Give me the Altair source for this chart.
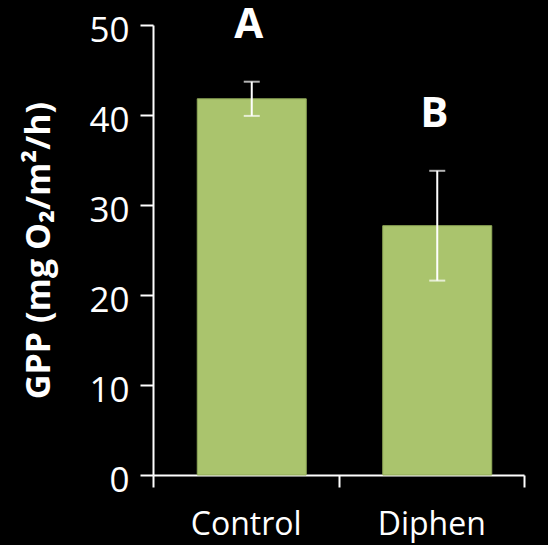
import altair as alt
import pandas as pd

# Gross primary production by treatment (mean ± error)
treatments = ["Control", "Diphen"]
gpp_mean = [41.8, 27.7]
gpp_err = [1.9, 6.1]
group_letters = ["A", "B"]
y_ticks = [0, 10, 20, 30, 40, 50]

df = pd.DataFrame({
    "treatment": treatments,
    "gpp": gpp_mean,
    "err": gpp_err,
    "letter": group_letters,
})
df["lo"] = df["gpp"] - df["err"]
df["hi"] = df["gpp"] + df["err"]

FONT = "Open Sans"
WHITE = "#FFFFFF"
GREEN = "#AAC46D"

x_enc = alt.X(
    "treatment:N",
    sort=treatments,
    scale=alt.Scale(paddingInner=0, paddingOuter=0),
    axis=alt.Axis(
        title=None,
        labelAngle=0,
        tickBand="extent",
        labelFont=FONT,
        labelFontSize=32,
        labelColor=WHITE,
        labelPadding=22,
        domainColor=WHITE,
        domainWidth=2,
        tickColor=WHITE,
        tickWidth=2,
        tickSize=12,
    ),
)

y_scale = alt.Scale(domain=[0, 50], nice=False)
y_axis = alt.Axis(
    title="GPP (mg O₂/m²/h)",
    values=y_ticks,
    grid=False,
    labelFont=FONT,
    labelFontSize=35,
    labelColor=WHITE,
    labelPadding=11,
    labelOffset=5,
    domainColor=WHITE,
    domainWidth=2,
    tickColor=WHITE,
    tickWidth=2,
    tickSize=13,
    titleFont=FONT,
    titleFontSize=34,
    titleFontWeight="bold",
    titleColor=WHITE,
    titleX=-104,
    titleY=225,
    titleAngle=-90,
    titleAlign="center",
    titleBaseline="alphabetic",
)

base = alt.Chart(df)

bars = base.mark_bar(
    width=109, xOffset=6, color=GREEN, stroke="#8FA857", strokeWidth=1
).encode(
    x=x_enc,
    y=alt.Y("gpp:Q", scale=y_scale, axis=y_axis),
)

stems = base.mark_rule(color=WHITE, strokeWidth=2, xOffset=6).encode(
    x=alt.X("treatment:N", sort=treatments),
    y="lo:Q",
    y2="hi:Q",
)

caps_top = base.mark_tick(color=WHITE, size=16, thickness=2, xOffset=6).encode(
    x=alt.X("treatment:N", sort=treatments),
    y="hi:Q",
)
caps_bottom = base.mark_tick(color=WHITE, size=16, thickness=2, xOffset=6).encode(
    x=alt.X("treatment:N", sort=treatments),
    y="lo:Q",
)

letters = base.mark_text(
    font=FONT,
    fontSize=42,
    fontWeight="bold",
    color=WHITE,
    baseline="alphabetic",
    dy=-43.5,
    dx=3,
).encode(
    x=alt.X("treatment:N", sort=treatments),
    y="hi:Q",
    text="letter:N",
)

chart = (
    alt.layer(bars, stems, caps_top, caps_bottom, letters)
    .properties(
        width=371,
        height=450,
        autosize=alt.AutoSizeParams(type="none"),
        padding={"left": 153, "top": 25, "right": 24, "bottom": 70},
    )
    .configure(background="#000000")
    .configure_view(stroke=None)
)

chart.save("out.html", embed_options={"renderer": "svg", "actions": False})
